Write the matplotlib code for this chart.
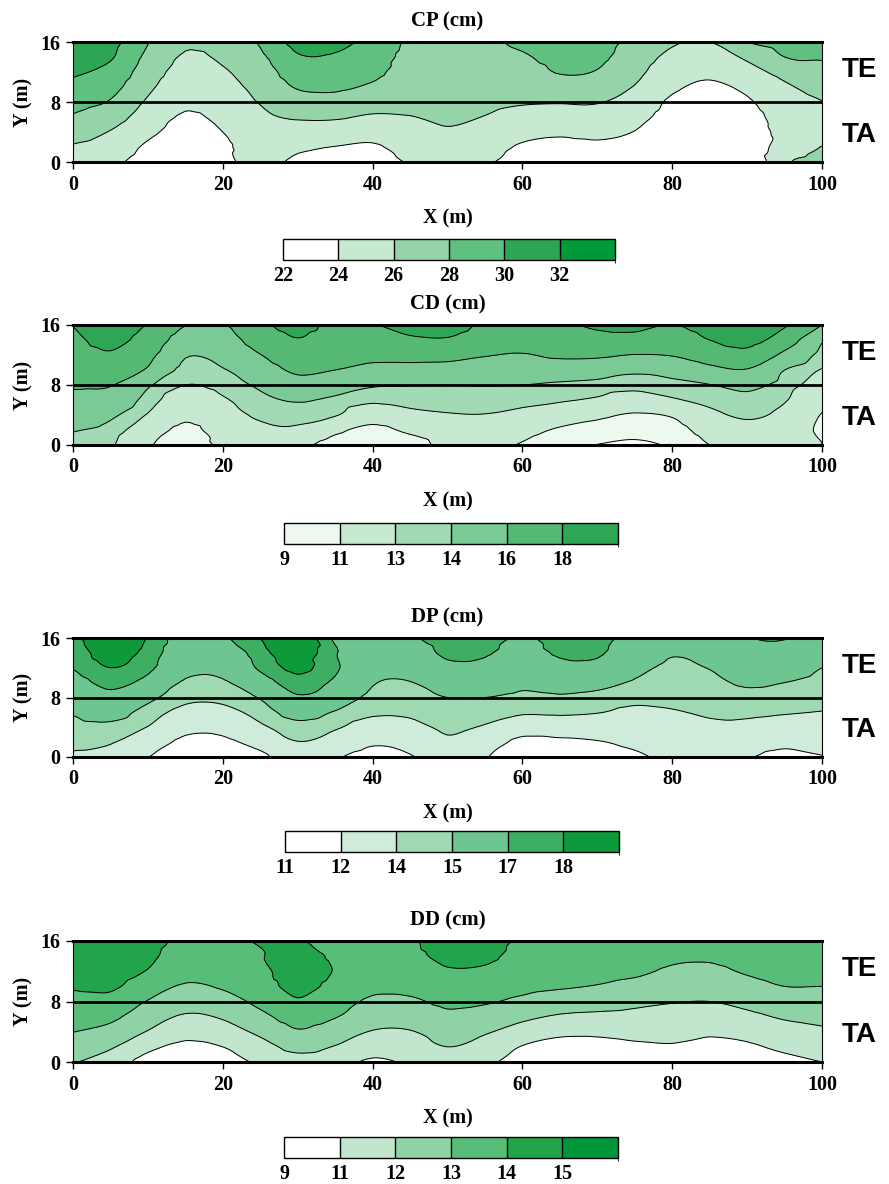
import numpy as np
import matplotlib
matplotlib.use('Agg')  # Non-interactive backend
import matplotlib.pyplot as plt
import matplotlib.tri as mtri
from matplotlib import colors as mcolors
from matplotlib.cm import ScalarMappable

plt.rcParams['font.family'] = 'Liberation Serif'
plt.rcParams['font.weight'] = 'bold'
plt.rcParams['axes.labelweight'] = 'bold'
plt.rcParams['axes.titleweight'] = 'bold'

# Sampling grid of the plot (m)
x_pos = np.arange(0, 101, 5)
y_pos = np.arange(0, 17, 2)

# Values per column x = 0, 5, ..., 100; each list runs y = 0, 2, ..., 16
cp_cols = [
    [24.8, 25.8, 26.8, 27.8, 28.7, 29.5, 30.3, 30.8, 31.3],
    [24.4, 25.2, 25.9, 26.85, 27.85, 28.65, 29.4, 30.2, 30.6],
    [23.2, 23.7, 24.4, 25.1, 25.75, 26.4, 27.0, 27.55, 28.1],
    [22.4, 22.9, 23.4, 23.8, 24.3, 24.8, 25.3, 25.8, 26.3],
    [23.4, 23.6, 24.0, 24.45, 24.9, 25.35, 25.8, 26.3, 26.8],
    [24.9, 25.1, 25.35, 25.7, 26.1, 26.6, 27.1, 27.65, 28.2],
    [23.4, 24.4, 25.35, 26.15, 27.2, 28.15, 28.9, 29.8, 30.6],
    [22.8, 23.95, 25.1, 26.2, 27.35, 28.3, 28.95, 29.8, 30.5],
    [22.7, 23.75, 24.75, 25.8, 26.75, 27.7, 28.5, 29.0, 29.4],
    [24.2, 24.8, 25.35, 25.95, 26.35, 26.7, 27.1, 27.45, 27.7],
    [24.6, 25.2, 25.8, 26.3, 26.7, 27.0, 27.2, 27.4, 27.5],
    [24.3, 24.85, 25.4, 25.95, 26.4, 26.8, 27.2, 27.5, 27.75],
    [22.95, 23.75, 24.6, 25.4, 26.15, 26.7, 27.25, 27.8, 28.3],
    [22.5, 23.4, 24.3, 25.2, 26.1, 27.15, 28.1, 28.6, 29.0],
    [22.8, 23.6, 24.45, 25.25, 26.1, 27.1, 27.9, 28.4, 28.8],
    [22.6, 23.3, 23.95, 24.6, 25.25, 25.9, 26.5, 27.0, 27.4],
    [22.2, 22.5, 22.9, 23.3, 23.7, 24.3, 24.9, 25.55, 26.2],
    [22.2, 22.4, 22.7, 22.95, 23.3, 23.75, 24.35, 25.2, 26.0],
    [22.2, 22.6, 23.0, 23.4, 23.8, 24.35, 25.3, 26.3, 28.0],
    [25.7, 25.0, 24.6, 24.7, 25.1, 25.7, 26.6, 28.0, 28.8],
    [26.6, 26.05, 25.5, 25.5, 25.95, 26.7, 27.4, 28.15, 28.7],
]

cd_cols = [
    [13.4, 14.1, 14.8, 15.5, 16.2, 16.6, 17.1, 17.6, 18.05],
    [13.15, 13.6, 14.25, 15.2, 16.1, 17.0, 17.8, 18.5, 19.0],
    [11.2, 12.0, 12.9, 13.55, 14.2, 15.8, 16.5, 17.2, 17.9],
    [10.2, 10.6, 11.4, 12.2, 13.0, 13.55, 14.15, 15.2, 16.05],
    [11.3, 11.8, 12.3, 12.85, 13.4, 13.9, 14.6, 15.3, 15.9],
    [11.8, 12.6, 13.25, 13.7, 14.25, 15.1, 15.95, 16.8, 17.6],
    [11.5, 12.7, 13.45, 14.1, 15.3, 16.3, 17.1, 17.9, 18.6],
    [10.2, 11.4, 13.1, 13.75, 14.7, 16.0, 16.5, 17.0, 17.6],
    [9.9, 10.5, 11.95, 13.25, 14.15, 15.5, 16.45, 17.2, 17.9],
    [10.1, 11.4, 12.6, 13.4, 14.05, 15.4, 16.6, 17.7, 18.7],
    [11.6, 12.2, 12.9, 13.5, 14.0, 15.3, 16.55, 17.8, 18.9],
    [11.7, 12.35, 12.95, 13.5, 14.05, 15.1, 16.1, 16.9, 17.7],
    [10.8, 11.7, 12.6, 13.35, 14.0, 14.95, 15.9, 16.7, 17.5],
    [9.6, 10.75, 12.0, 13.15, 13.8, 14.95, 16.3, 17.05, 17.7],
    [8.95, 10.2, 11.4, 12.8, 13.6, 14.8, 16.3, 17.4, 18.3],
    [8.6, 9.7, 10.8, 12.3, 13.4, 14.3, 15.95, 17.4, 18.5],
    [9.3, 10.25, 11.2, 12.85, 13.6, 14.65, 16.1, 17.0, 17.95],
    [11.0, 11.8, 12.6, 13.35, 13.95, 15.5, 16.9, 18.0, 18.8],
    [11.7, 12.5, 13.2, 13.65, 14.4, 15.9, 17.4, 18.6, 19.3],
    [11.9, 12.2, 12.6, 13.1, 13.5, 14.0, 15.6, 17.0, 18.2],
    [11.0, 10.6, 10.9, 11.6, 12.3, 12.9, 13.5, 14.2, 16.0],
]

dp_cols = [
    [13.8, 14.25, 14.65, 15.1, 15.75, 16.4, 17.05, 17.35, 17.7],
    [13.5, 14.1, 14.7, 15.5, 16.55, 17.35, 18.0, 18.5, 18.9],
    [12.05, 13.0, 13.95, 14.55, 15.35, 16.55, 17.3, 17.65, 17.95],
    [11.2, 11.6, 12.55, 13.6, 14.3, 14.8, 15.5, 16.0, 16.4],
    [11.3, 11.65, 12.55, 13.6, 14.3, 14.8, 15.5, 16.0, 16.85],
    [11.6, 12.65, 13.75, 14.45, 15.1, 16.3, 17.2, 17.6, 18.0],
    [13.3, 13.95, 14.6, 15.5, 16.8, 17.6, 18.25, 18.7, 19.0],
    [12.2, 13.3, 14.15, 14.9, 16.0, 16.75, 17.2, 17.1, 16.8],
    [11.3, 12.25, 13.35, 14.2, 14.65, 15.1, 15.5, 15.8, 16.1],
    [11.85, 12.7, 13.6, 14.2, 14.6, 14.95, 15.6, 16.2, 16.8],
    [13.3, 13.75, 14.2, 14.6, 15.0, 15.85, 16.65, 17.25, 17.6],
    [12.1, 12.95, 13.85, 14.45, 15.0, 15.8, 16.6, 17.15, 17.6],
    [11.2, 11.55, 12.9, 14.15, 14.75, 15.3, 15.85, 16.35, 16.8],
    [11.2, 11.65, 13.05, 14.2, 14.85, 15.6, 16.55, 17.2, 17.6],
    [11.3, 11.9, 13.0, 14.05, 14.65, 15.45, 16.55, 17.2, 17.6],
    [11.7, 12.35, 13.0, 13.7, 14.3, 14.85, 15.4, 15.85, 16.2],
    [12.4, 12.8, 13.25, 13.9, 14.25, 14.5, 14.8, 15.1, 15.5],
    [12.3, 12.95, 13.7, 14.15, 14.45, 14.75, 15.05, 15.6, 16.2],
    [12.1, 12.8, 13.6, 14.25, 14.7, 15.15, 15.75, 16.35, 16.95],
    [11.5, 12.4, 13.3, 14.1, 14.55, 15.0, 15.6, 16.2, 17.1],
    [11.9, 12.6, 13.3, 13.95, 14.3, 14.65, 15.0, 15.6, 16.2],
]

dd_cols = [
    [12.07, 12.55, 13.02, 13.38, 13.73, 14.09, 14.3, 14.5, 14.7],
    [11.55, 12.1, 12.7, 13.2, 13.7, 14.15, 14.45, 14.7, 14.9],
    [10.6, 11.25, 11.95, 12.45, 12.95, 13.45, 13.95, 14.2, 14.35],
    [10.2, 10.75, 11.35, 11.9, 12.4, 12.9, 13.3, 13.55, 13.8],
    [10.45, 11.0, 11.6, 12.1, 12.6, 13.1, 13.4, 13.6, 13.8],
    [11.2, 11.65, 12.2, 12.75, 13.25, 13.55, 13.75, 13.95, 14.05],
    [11.6, 12.25, 12.9, 13.4, 13.9, 14.3, 14.5, 14.4, 14.05],
    [11.4, 11.95, 12.5, 13.05, 13.4, 13.7, 13.95, 13.85, 13.75],
    [10.85, 11.4, 11.95, 12.4, 12.85, 13.2, 13.45, 13.65, 13.8],
    [11.15, 11.55, 11.95, 12.4, 12.85, 13.25, 13.5, 13.7, 13.85],
    [11.6, 12.0, 12.4, 12.8, 13.2, 13.55, 13.9, 14.3, 14.6],
    [11.3, 11.65, 12.1, 12.6, 13.1, 13.45, 13.85, 14.2, 14.5],
    [10.35, 10.95, 11.6, 12.2, 12.8, 13.25, 13.5, 13.7, 13.85],
    [9.9, 10.55, 11.25, 11.9, 12.5, 13.1, 13.4, 13.6, 13.8],
    [9.9, 10.6, 11.2, 11.8, 12.4, 12.95, 13.35, 13.6, 13.8],
    [10.2, 10.8, 11.3, 11.75, 12.2, 12.7, 13.2, 13.5, 13.75],
    [10.4, 10.9, 11.3, 11.65, 12.05, 12.45, 12.85, 13.2, 13.55],
    [10.3, 10.7, 11.15, 11.6, 12.0, 12.4, 12.8, 13.15, 13.5],
    [10.4, 10.85, 11.3, 11.8, 12.25, 12.7, 13.1, 13.4, 13.7],
    [10.7, 11.2, 11.65, 12.1, 12.55, 13.0, 13.35, 13.65, 13.85],
    [11.0, 11.4, 11.85, 12.25, 12.6, 13.0, 13.35, 13.6, 13.85],
]

# Class limits of each map (the last box of the bar has no label)
cp_bounds = [22, 24, 26, 28, 30, 32, 34]
cd_bounds = [9, 11, 13, 14, 16, 18, 20]
dp_bounds = [11, 12, 14, 15, 17, 18, 20]
dd_bounds = [9, 11, 12, 13, 14, 15, 17]

cp_colors = ['#ffffff', '#c7e9d1', '#94d4a8', '#5fc080', '#2ca653', '#009a38']
cd_colors = ['#edf8ef', '#c7e9d1', '#a1dab4', '#7bca96', '#55b974', '#2ea655']
dp_colors = ['#ffffff', '#cfecdb', '#9fd9b2', '#6dc58f', '#3eae62', '#0e9a3a']
dd_colors = ['#ffffff', '#c2e6cd', '#8fd2a5', '#58bd79', '#22a44b', '#00963b']

titles = ['CP (cm)', 'CD (cm)', 'DP (cm)', 'DD (cm)']
panels = [
    (cp_cols, cp_bounds, cp_colors),
    (cd_cols, cd_bounds, cd_colors),
    (dp_cols, dp_bounds, dp_colors),
    (dd_cols, dd_bounds, dd_colors),
]

W, H = 889, 1184
fig = plt.figure(figsize=(W / 100, H / 100), dpi=100)

# axes boxes in pixels: left, top, right, bottom
ax_px = [(73, 42, 822, 162), (73, 325, 822, 445),
         (73, 638, 822, 757), (73, 941, 822, 1062)]
cb_px = [(283, 239, 615, 260), (284, 523, 618, 544),
         (285, 831, 619, 852), (284, 1137, 618, 1158)]


def rect(box):
    l, t, r, b = box
    return [l / W, 1 - b / H, (r - l) / W, (b - t) / H]


X, Y = np.meshgrid(x_pos, y_pos)
triang = mtri.Triangulation(X.ravel(), Y.ravel())
refiner = mtri.UniformTriRefiner(triang)

for (cols, bounds, cols_c), title, apx, cpx in zip(panels, titles, ax_px, cb_px):
    Z = np.array(cols).T
    # smooth the gridded field with matplotlib's cubic triangle refiner
    interp = mtri.CubicTriInterpolator(triang, Z.ravel(), kind='geom')
    tri_f, z_f = refiner.refine_field(Z.ravel(), triinterpolator=interp, subdiv=3)

    ax = fig.add_axes(rect(apx))
    fill_colors = ['#ffffff'] + cols_c + [cols_c[-1]]
    ax.tricontourf(tri_f, z_f, levels=bounds, colors=fill_colors, extend='both')
    # no outline around the white bottom class
    line_levels = bounds[:-1] if cols_c[0] != '#ffffff' else bounds[1:-1]
    ax.tricontour(tri_f, z_f, levels=line_levels, colors='k', linewidths=0.7)
    ax.axhline(8, color='k', lw=2.0, zorder=5)

    ax.set_xlim(0, 100)
    ax.set_ylim(0, 16)
    ax.set_xticks(range(0, 101, 20))
    ax.set_yticks([0, 8, 16])
    ax.tick_params(direction='out', length=5, width=1, labelsize=14.5, pad=4)
    for side in ('top', 'bottom'):
        ax.spines[side].set_linewidth(2.2)
        ax.spines[side].set_zorder(6)
    for side in ('left', 'right'):
        ax.spines[side].set_linewidth(0.8)

    top = ax.secondary_xaxis('top')
    top.set_xticks(range(0, 101, 10))
    top.tick_params(direction='in', length=3, width=0.6, labeltop=False)
    top.spines['top'].set_visible(False)
    right = ax.secondary_yaxis('right')
    right.set_yticks([0, 5, 10, 15])
    right.tick_params(direction='in', length=3, width=0.6, labelright=False)
    right.spines['right'].set_visible(False)

    ax.set_title(title, fontsize=15, pad=11)
    ax.set_xlabel('X (m)', fontsize=14.5, labelpad=10)
    ax.set_ylabel('Y (m)', fontsize=14.5, labelpad=5)

    ty = ax.get_yaxis_transform()
    ax.text(1.05, 12.3, 'TE', transform=ty, ha='center', va='center',
            fontsize=20, fontweight='bold', family='Liberation Sans')
    ax.text(1.05, 3.6, 'TA', transform=ty, ha='center', va='center',
            fontsize=20, fontweight='bold', family='Liberation Sans')

    cax = fig.add_axes(rect(cpx))
    cmap = mcolors.ListedColormap(cols_c)
    norm = mcolors.BoundaryNorm(bounds, cmap.N)
    cb = fig.colorbar(ScalarMappable(norm=norm, cmap=cmap), cax=cax,
                      orientation='horizontal', spacing='uniform',
                      ticks=bounds[:-1], drawedges=True)
    cb.outline.set_linewidth(1.0)
    cb.dividers.set_linewidth(1.0)
    cb.dividers.set_color('k')
    cax.tick_params(length=0, labelsize=14.5, pad=4)

fig.savefig('out.png', dpi=100)
